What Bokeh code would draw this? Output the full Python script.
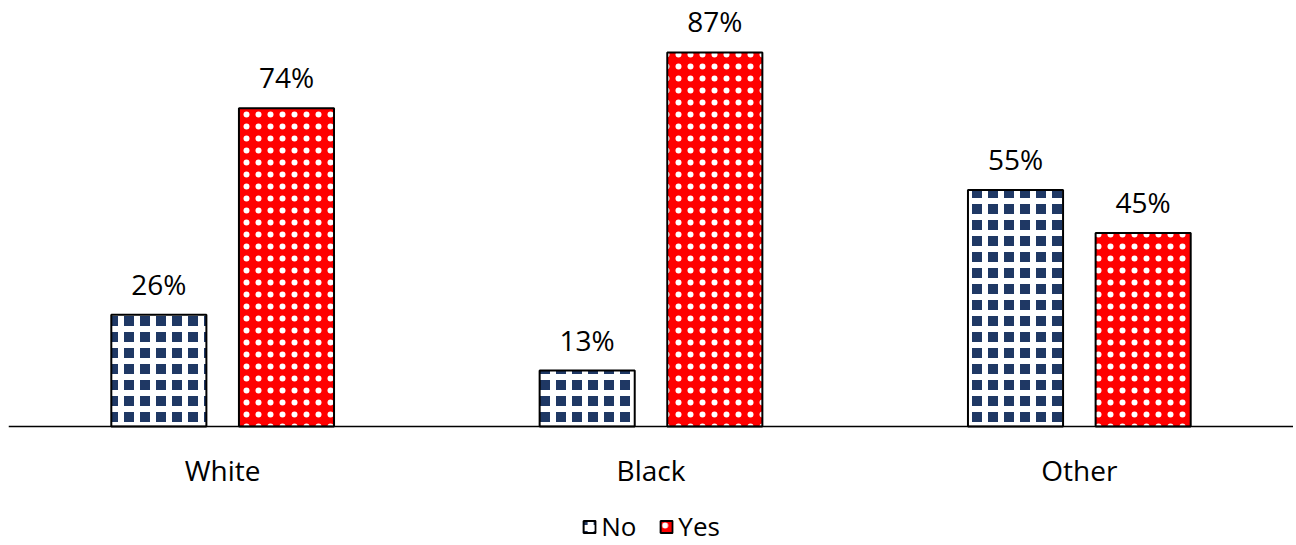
from bokeh.plotting import figure
from bokeh.models import ColumnDataSource, Range1d, FactorRange, Legend, LegendItem, Span
from bokeh.transform import dodge
from bokeh.embed import file_html
from bokeh.resources import INLINE
from bokeh.core.properties import value

categories = ["White", "Black", "Other"]
no_vals = [0.26, 0.13, 0.55]
yes_vals = [0.74, 0.87, 0.45]

FONT = "Open Sans"

src = ColumnDataSource(dict(
    cat=categories,
    zero=[0] * len(categories),
    no=no_vals,
    yes=yes_vals,
    no_lbl=[f"{v*100:.0f}%" for v in no_vals],
    yes_lbl=[f"{v*100:.0f}%" for v in yes_vals],
))

PX = 430.0   # pixels per unit on the value scale
H = 545      # figure / frame height
BASE = 426   # pixel row of the zero line
p = figure(frame_width=1285, frame_height=H, x_range=FactorRange(*categories, range_padding=0),
           y_range=Range1d(-(H - BASE) / PX, BASE / PX), output_backend="svg", toolbar_location=None,
           min_border_left=8, min_border_right=0, min_border_top=0, min_border_bottom=0)

bw = 0.222
off = 0.149
r_no = p.vbar(x=dodge("cat", -off, range=p.x_range), top="no", width=bw, source=src,
              fill_color="#1F3864", line_color="black", line_width=2,
              hatch_pattern="cross", hatch_color="white", hatch_scale=16, hatch_weight=6)
r_yes = p.vbar(x=dodge("cat", off, range=p.x_range), top="yes", width=bw, source=src,
               fill_color="#FF0000", line_color="black", line_width=2,
               hatch_pattern="dot", hatch_color="white", hatch_scale=12, hatch_weight=1)

p.text(x=dodge("cat", -off, range=p.x_range), y="no", text="no_lbl", source=src,
       text_align="center", text_baseline="bottom", y_offset=-12,
       text_font=value(FONT), text_font_size="28px", text_color="black")
p.text(x=dodge("cat", off, range=p.x_range), y="yes", text="yes_lbl", source=src,
       text_align="center", text_baseline="bottom", y_offset=-12,
       text_font=value(FONT), text_font_size="28px", text_color="black")

# category labels under the baseline
p.text(x="cat", y="zero", text="cat", source=src,
       text_align="center", text_baseline="middle", y_offset=43,
       text_font=value(FONT), text_font_size="28px", text_color="black")

p.add_layout(Span(location=0, dimension="width", line_color="black", line_width=1.5))

p.xaxis.visible = False
p.yaxis.visible = False
p.xgrid.visible = False
p.ygrid.visible = False
p.outline_line_color = None

legend = Legend(items=[LegendItem(label="No", renderers=[r_no]),
                       LegendItem(label="Yes", renderers=[r_yes])],
                orientation="horizontal", location="bottom_center",
                label_text_font=FONT, label_text_font_size="26px", label_text_color="black",
                glyph_width=15, glyph_height=15, spacing=22, label_standoff=5,
                border_line_color=None, background_fill_alpha=0, margin=1, padding=0)
p.add_layout(legend, "center")

open("out.html", "w").write(file_html(p, INLINE))
